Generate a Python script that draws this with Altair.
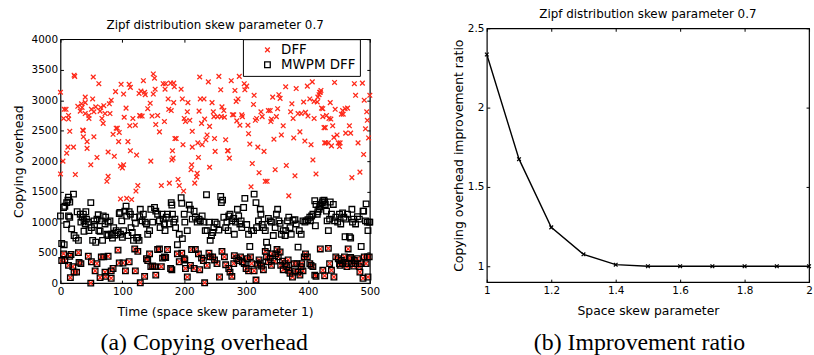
import altair as alt
import pandas as pd

# ---------------- data ----------------
series_names = ["DFF", "MWPM DFF"]

# DFF points that lie well above the MWPM ones: (time, copying overhead)
dff_high = [
    (0, 3130), (0, 1790), (4, 2000), (5, 2700), (6, 2850), (9, 2850), (10, 2130), (12, 2230),
    (13, 2750), (13, 2690), (15, 2490), (22, 3410), (23, 3390), (21, 2230), (24, 1780), (28, 2900),
    (32, 2820), (34, 2940), (35, 2880), (36, 2510), (37, 2500), (37, 2400), (40, 2960), (40, 2780),
    (40, 3050), (43, 2320), (43, 2210), (46, 2750), (49, 1940), (46, 2700), (50, 2850), (52, 3020),
    (53, 3380), (54, 2400), (54, 2810), (57, 2890), (59, 2060), (62, 3270), (64, 2820), (65, 2880),
    (67, 2700), (69, 2620), (70, 2910), (72, 2780), (75, 1670), (77, 2150), (77, 1750), (79, 2940),
    (80, 2780), (82, 3000), (85, 2440), (87, 2080), (89, 3140), (90, 2540), (92, 2540), (94, 2320),
    (95, 2470), (97, 1920), (97, 1380), (98, 3260), (100, 1890), (102, 1940), (102, 3100), (103, 2720),
    (106, 2870), (107, 1390), (109, 2320), (111, 3260), (112, 2580), (113, 3210), (113, 2170), (115, 1370),
    (117, 2700), (121, 2590), (122, 1510), (123, 2100), (125, 1600), (127, 3110), (128, 2750), (129, 2740),
    (130, 3150), (132, 2740), (134, 3320), (136, 3130), (137, 3090), (141, 2860), (145, 2950), (146, 2000),
    (148, 2740), (150, 3430), (152, 3360), (150, 3100), (153, 3180), (154, 2600), (157, 2750), (160, 2480),
    (163, 1600), (166, 3270), (168, 2650), (169, 3180), (170, 3270), (174, 3020), (175, 2850), (176, 1640),
    (178, 3280), (179, 2830), (180, 2020), (181, 2170), (182, 2050), (183, 2960), (183, 3280), (184, 3220),
    (185, 2370), (187, 2370), (190, 1700), (192, 1600), (195, 3180), (197, 3020), (198, 2270), (199, 1510),
    (200, 2700), (202, 2650), (205, 2810), (206, 2960), (209, 2670), (211, 1860), (212, 1940), (213, 2490),
    (213, 2230), (217, 1640), (220, 1740), (221, 1800), (222, 2300), (223, 2060), (224, 2820), (225, 3380),
    (226, 3020), (228, 2620), (229, 2270), (232, 3020), (233, 2690), (235, 2350), (237, 2430), (239, 3300),
    (241, 2570), (241, 1900), (245, 2960), (247, 2810), (248, 2730), (249, 2370), (250, 2160), (254, 2730),
    (256, 3390), (259, 3170), (260, 2730), (261, 2890), (264, 2830), (265, 2720), (267, 2350), (270, 2170),
    (271, 2170), (273, 2050), (276, 3320), (278, 2760), (280, 2760), (282, 3160), (284, 2980), (285, 2660),
    (287, 3020), (289, 3390), (290, 2590), (293, 2760), (294, 2730), (297, 3270), (298, 3170), (301, 3230),
    (303, 2590), (304, 2450), (306, 2280), (308, 1580), (310, 1960), (312, 2930), (313, 3080), (315, 2670),
    (317, 2700), (319, 2230), (321, 1810), (324, 2810), (326, 2730), (329, 2160), (331, 1670), (334, 1670),
    (336, 2830), (339, 2830), (340, 2650), (341, 2690), (343, 3050), (345, 2360), (347, 1860), (349, 2730),
    (351, 2860), (353, 3090), (355, 3030), (357, 2430), (360, 2580), (364, 3220), (365, 1930), (369, 1430),
    (372, 2810), (374, 2940), (376, 2700), (377, 2380), (379, 1760), (381, 3190), (384, 2780), (387, 2480),
    (389, 2780), (393, 2970), (395, 2330), (396, 2800), (399, 3230), (400, 2740), (403, 3020), (405, 2270),
    (407, 3300), (408, 2020), (410, 2700), (410, 2980), (413, 1790), (415, 2970), (416, 3050), (418, 3090),
    (419, 3130), (420, 3130), (421, 3160), (422, 2870), (424, 2860), (424, 2730), (426, 2550), (427, 2300),
    (429, 2300), (428, 2550), (430, 2750), (433, 2300), (434, 2700), (436, 2960), (437, 2690), (438, 2250),
    (440, 2580), (442, 2390), (443, 3290), (444, 2850), (447, 2430), (449, 2300), (451, 2240), (452, 2300),
    (454, 2770), (456, 2830), (457, 2770), (460, 2860), (461, 2460), (464, 2870), (467, 2580), (469, 2460),
    (471, 1730), (475, 3270), (477, 3080), (481, 2300), (484, 1820), (488, 3280), (490, 2110), (491, 3000),
    (493, 2530), (495, 2810), (496, 2670), (498, 2380), (500, 3080),
]

# MWPM DFF points in the middle band
mwpm_mid = [
    (0, 1100), (2, 650), (6, 630), (5, 1240), (7, 1260), (10, 1320), (12, 1360), (13, 1410), (15, 1330),
    (13, 1100), (15, 1080), (21, 1460), (10, 960), (18, 890), (22, 780), (25, 740), (27, 1170), (29, 700),
    (32, 1130), (33, 1000), (35, 1080), (37, 1130), (38, 1020), (40, 970), (41, 1170), (42, 1050), (38, 850),
    (45, 1000), (46, 860), (49, 1320), (50, 910), (52, 700), (54, 1020), (55, 960), (57, 670), (59, 1050),
    (61, 1120), (62, 860), (64, 850), (66, 1020), (68, 700), (69, 1100), (72, 970), (73, 1080), (75, 800),
    (77, 1000), (77, 780), (80, 1020), (82, 800), (84, 740), (86, 910), (88, 790), (90, 860), (93, 830),
    (95, 1140), (96, 1160), (97, 800), (99, 1020), (100, 750), (102, 860), (104, 1180), (106, 1260),
    (107, 1100), (109, 780), (111, 1170), (113, 1130), (114, 910), (116, 830), (118, 700), (120, 1080),
    (121, 980), (123, 740), (125, 750), (127, 700), (128, 1090), (129, 1210), (132, 1020), (134, 1130),
    (137, 1000), (139, 970), (141, 800), (144, 860), (146, 1210), (149, 1000), (152, 1240), (154, 1180),
    (157, 1130), (160, 1020), (161, 910), (164, 1130), (166, 1050), (168, 970), (169, 860), (171, 1080),
    (173, 1130), (176, 970), (179, 1320), (180, 1280), (181, 1130), (183, 1000), (185, 1050), (186, 910),
    (189, 630), (192, 800), (195, 1400), (196, 1310), (197, 730), (200, 1130), (201, 1000), (205, 860),
    (208, 1280), (210, 1210), (213, 1050), (216, 1180), (218, 1080), (221, 1000), (224, 1050), (226, 1020),
    (229, 1100), (232, 1000), (234, 860), (236, 1450), (237, 860), (240, 1000), (242, 700), (244, 780),
    (246, 830), (248, 910), (250, 1000), (253, 970), (256, 870), (259, 1420), (260, 1320), (262, 1360),
    (264, 1080), (267, 910), (269, 1000), (271, 860), (272, 1100), (274, 1130), (277, 1020), (280, 1060),
    (281, 800), (283, 1000), (286, 1210), (288, 1100), (290, 970), (292, 1020), (293, 910), (296, 1240),
    (298, 1390), (301, 960), (304, 800), (306, 600), (309, 860), (312, 860), (313, 1460), (316, 1320),
    (317, 910), (320, 1020), (323, 1210), (324, 1130), (326, 960), (328, 910), (331, 860), (333, 670),
    (335, 580), (336, 1060), (339, 1020), (341, 1000), (344, 780), (347, 910), (349, 1130), (351, 1210),
    (353, 1020), (355, 980), (357, 800), (360, 860), (363, 780), (364, 860), (367, 1020), (369, 1080),
    (371, 910), (373, 800), (376, 1030), (379, 1040), (381, 970), (384, 590), (386, 860), (389, 800),
    (392, 1020), (395, 1000), (397, 1020), (400, 1040), (403, 1080), (404, 1020), (406, 1100), (408, 1130),
    (411, 1350), (412, 940), (413, 1290), (415, 1130), (416, 1170), (418, 1210), (419, 1250), (420, 1280),
    (423, 1320), (424, 1350), (426, 1360), (427, 1330), (428, 1290), (430, 1180), (431, 1020), (433, 860),
    (435, 1050), (436, 1330), (438, 1130), (441, 1290), (443, 1020), (445, 1080), (448, 1000), (451, 1130),
    (453, 970), (456, 1150), (458, 1080), (460, 760), (461, 1050), (464, 1130), (467, 760), (469, 740),
    (471, 1210), (472, 1000), (474, 1050), (477, 970), (480, 1090), (483, 1050), (486, 600), (489, 1180),
    (490, 1180), (493, 1020), (494, 1300), (496, 1000), (497, 860), (499, 1000), (500, 1000),
]

# times where both methods give the same (low) overhead
both_low = [
    (2, 370), (5, 480), (7, 370), (13, 290), (15, 440), (17, 470), (16, 90), (20, 270), (22, 180),
    (26, 180), (29, 500), (30, 340), (33, 320), (45, 440), (49, 0), (50, 350), (56, 200), (59, 320),
    (64, 90), (66, 430), (70, 430), (72, 180), (73, 110), (77, 440), (82, 200), (82, 80), (85, 240),
    (93, 540), (95, 330), (101, 330), (105, 200), (111, 350), (120, 560), (121, 200), (125, 520),
    (129, 5), (136, 110), (139, 400), (141, 370), (144, 480), (146, 270), (149, 280), (152, 270),
    (154, 130), (157, 550), (160, 560), (163, 270), (165, 410), (168, 430), (170, 420), (173, 550),
    (178, 240), (180, 220), (189, 480), (192, 350), (196, 490), (200, 400), (201, 380), (202, 240),
    (205, 100), (210, 290), (212, 550), (216, 240), (218, 550), (223, 480), (225, 220), (228, 410),
    (231, 370), (233, 5), (237, 290), (240, 490), (242, 430), (246, 430), (249, 380), (253, 320),
    (257, 100), (261, 520), (265, 430), (267, 300), (272, 240), (274, 180), (277, 110), (280, 320),
    (281, 450), (285, 400), (288, 370), (291, 430), (294, 350), (297, 320), (300, 240), (302, 400),
    (304, 200), (307, 430), (309, 320), (313, 200), (316, 50), (319, 310), (321, 380), (323, 330),
    (325, 280), (328, 220), (331, 520), (333, 430), (336, 350), (339, 410), (341, 290), (342, 480),
    (346, 360), (348, 480), (350, 550), (352, 430), (355, 510), (356, 290), (359, 360), (360, 220),
    (363, 320), (366, 270), (368, 380), (369, 210), (371, 160), (375, 100), (378, 320), (380, 200),
    (382, 320), (384, 180), (387, 130), (389, 270), (390, 320), (392, 200), (394, 430), (396, 480),
    (399, 430), (403, 320), (405, 290), (408, 270), (411, 130), (413, 110), (420, 560), (424, 210),
    (427, 120), (433, 570), (435, 320), (438, 210), (442, 100), (445, 430), (449, 400), (451, 320),
    (452, 290), (454, 370), (456, 320), (459, 430), (461, 320), (463, 270), (465, 560), (467, 400),
    (469, 420), (471, 320), (474, 280), (475, 370), (477, 320), (480, 400), (483, 270), (484, 180),
    (486, 320), (489, 80), (491, 430), (494, 320), (496, 430), (497, 100), (499, 430),
]

# panel (b)
skew_param = [1.0, 1.1, 1.2, 1.3, 1.4, 1.5, 1.6, 1.7, 1.8, 1.9, 2.0]
improvement = [2.335, 1.675, 1.245, 1.075, 1.01, 1.0, 1.0, 1.0, 1.0, 1.0, 1.0]

x_ticks_a = [0, 100, 200, 300, 400, 500]
y_ticks_a = [0, 500, 1000, 1500, 2000, 2500, 3000, 3500, 4000]
x_ticks_b = [1, 1.2, 1.4, 1.6, 1.8, 2]
y_ticks_b = [1, 1.5, 2, 2.5]

title_text = "Zipf distribution skew parameter 0.7"
caption_a = "(a) Copying overhead"
caption_b = "(b) Improvement ratio"

# ---------------- tables ----------------
rows = []
for t, v in dff_high + both_low:
    rows.append({"t": t, "v": v, "series": "DFF"})
for t, v in mwpm_mid + both_low:
    rows.append({"t": t, "v": v, "series": "MWPM DFF"})
scatter = pd.DataFrame(rows)
ratio_df = pd.DataFrame({"s": skew_param, "r": improvement})

SANS = "DejaVu Sans"
W_A, H_A = 312, 246
W_B, H_B = 325, 256

def frame_axes(ticks, fmt, title, orient, **kw):
    return alt.Axis(values=ticks, format=fmt, title=title, orient=orient, offset=-3, tickSize=3,
                    domain=False, grid=False, labelFlush=False, **kw)

# ---------------- panel (a) ----------------
xa = alt.Scale(domain=[0, 500], nice=False, zero=False)
ya = alt.Scale(domain=[0, 4000], nice=False, zero=False)

legend_a = alt.Legend(title=None, orient="none", legendX=184, legendY=11,
                      strokeColor="black", fillColor="white", padding=4,
                      symbolOffset=14, labelOffset=7, rowPadding=0,
                      labelFont=SANS, labelFontSize=13.5, labelColor="black",
                      symbolStrokeWidth=1.3, symbolSize=25)

pts = alt.Chart(scatter).mark_point(filled=False, strokeWidth=1.3, opacity=1).encode(
    x=alt.X("t:Q", scale=xa, axis=frame_axes(x_ticks_a, "d", "Time (space skew parameter 1)", "bottom",
                                              labelPadding=3, titlePadding=9)),
    y=alt.Y("v:Q", scale=ya, axis=frame_axes(y_ticks_a, "d", "Copying overhead", "left",
                                              labelPadding=3, titlePadding=6)),
    color=alt.Color("series:N", scale=alt.Scale(domain=series_names, range=["#ff2a1a", "#000000"]),
                    legend=legend_a),
    shape=alt.Shape("series:N", scale=alt.Scale(domain=series_names,
                                                range=["M-1,-1L1,1M-1,1L1,-1", "square"]),
                    legend=legend_a),
    size=alt.Size("series:N", scale=alt.Scale(domain=series_names, range=[22, 32]), legend=None),
)

pts_box = alt.Chart(scatter).mark_point(opacity=0).encode(
    x=alt.X("t:Q", scale=xa, axis=frame_axes(x_ticks_a, "d", None, "top", labels=False)),
    y=alt.Y("v:Q", scale=ya, axis=frame_axes(y_ticks_a, "d", None, "right", labels=False)),
)

cap_a = alt.Chart(pd.DataFrame({"c": [caption_a]})).mark_text(
    font="Liberation Serif", fontSize=24, align="center", baseline="middle", color="black"
).encode(x=alt.value(145), y=alt.value(H_A + 60), text="c:N")

panel_a = alt.layer(pts, pts_box, cap_a).resolve_axis(x="independent", y="independent").properties(
    width=W_A, height=H_A,
    title=alt.TitleParams(title_text, font=SANS, fontSize=12, fontWeight="normal", color="black", offset=2),
    view=alt.ViewBackground(stroke="black", strokeWidth=1.2),
)

# ---------------- panel (b) ----------------
xb = alt.Scale(domain=[1, 2], nice=False, zero=False)
yb = alt.Scale(domain=[0.9, 2.5], nice=False, zero=False)

line_b = alt.Chart(ratio_df).mark_line(color="black", strokeWidth=1.4).encode(
    x=alt.X("s:Q", scale=xb, axis=frame_axes(x_ticks_b, ".1~f", "Space skew parameter", "bottom",
                                              labelPadding=3, titlePadding=9)),
    y=alt.Y("r:Q", scale=yb, axis=frame_axes(y_ticks_b, ".1~f", "Copying overhead improvement ratio", "left",
                                              labelPadding=3, titlePadding=2)),
)
mark_b = alt.Chart(ratio_df).mark_point(shape="M-1,-1L1,1M-1,1L1,-1", filled=False, color="black",
                                        size=14, strokeWidth=1.2, opacity=1).encode(
    x=alt.X("s:Q", scale=xb, axis=frame_axes(x_ticks_b, ".1~f", None, "top", labels=False)),
    y=alt.Y("r:Q", scale=yb, axis=frame_axes(y_ticks_b, ".1~f", None, "right", labels=False)),
)
cap_b = alt.Chart(pd.DataFrame({"c": [caption_b]})).mark_text(
    font="Liberation Serif", fontSize=24, align="center", baseline="middle", color="black"
).encode(x=alt.value(154), y=alt.value(H_B + 61), text="c:N")

panel_b = alt.layer(line_b, mark_b, cap_b).resolve_axis(x="independent", y="independent").properties(
    width=W_B, height=H_B,
    title=alt.TitleParams(title_text, font=SANS, fontSize=12, fontWeight="normal", color="black", offset=2),
    view=alt.ViewBackground(stroke="black", strokeWidth=1.2),
)

spacer = alt.Chart(pd.DataFrame({"a": [0]})).mark_point(opacity=0).encode(
    x=alt.value(0), y=alt.value(0)
).properties(width=1, height=1, view=alt.ViewBackground(strokeOpacity=0))

left_col = alt.vconcat(spacer, panel_a, spacing=10, bounds="flush")

chart = alt.hconcat(left_col, panel_b, spacing=430, bounds="flush").properties(
    padding={"left": 11, "top": 6, "right": 0, "bottom": 0}
).configure_axis(
    labelFont=SANS, labelFontSize=10.5, labelColor="black",
    titleFont=SANS, titleFontSize=12.5, titleColor="black", titleFontWeight="normal",
    tickColor="black", tickWidth=1,
).configure_view(stroke="black")

chart.save("out.html", embed_options={"renderer": "svg", "actions": False})
